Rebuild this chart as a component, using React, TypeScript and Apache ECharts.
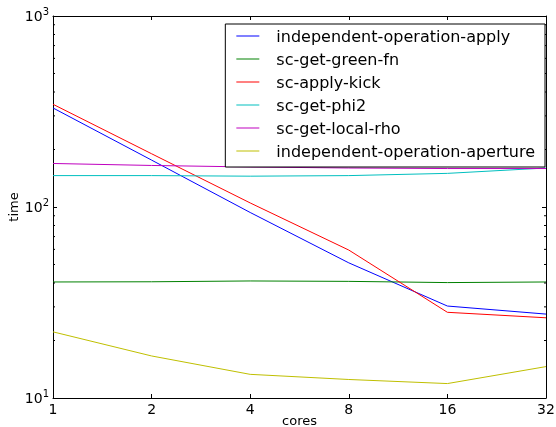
import React, { useEffect, useRef } from "react";
import * as echarts from "echarts";

const cores = ["1", "2", "4", "8", "16", "32"];
const seriesNames = [
  "independent-operation-apply",
  "sc-get-green-fn",
  "sc-apply-kick",
  "sc-get-phi2",
  "sc-get-local-rho",
  "independent-operation-aperture",
];
const indepApply = [330, 176, 93.6, 51, 30.3, 27.5];
const greenFn = [40.5, 40.6, 41, 40.8, 40.2, 40.5];
const applyKick = [345, 190, 105, 59.5, 28.1, 26.3];
const phi2 = [146, 146, 145, 146, 150, 160];
const localRho = [169, 165, 162, 160, 159, 159];
const aperture = [22.2, 16.6, 13.3, 12.5, 11.9, 14.6];
const colors = ["#0000ff", "#008000", "#ff0000", "#00bfbf", "#bf00bf", "#bfbf00"];
const minorTickValues = [20, 30, 40, 50, 60, 70, 80, 90, 200, 300, 400, 500, 600, 700, 800, 900];

const allData = [indepApply, greenFn, applyKick, phi2, localRho, aperture];
const FONT = "DejaVu Sans";

export default function App() {
  const ref = useRef<HTMLDivElement>(null);
  useEffect(() => {
    if (!ref.current) return;
    const chart = echarts.init(ref.current, undefined, { renderer: "svg" });
    const lineSeries = seriesNames.map((name, i) => ({
      name,
      type: "line",
      data: allData[i],
      symbol: "none",
      showSymbol: false,
      lineStyle: { color: colors[i], width: 1 },
      itemStyle: { color: colors[i] },
      z: 3,
    }));
    chart.setOption({
      animation: false,
      textStyle: { fontFamily: FONT },
      grid: { left: 53, right: 10, top: 16, bottom: 29, containLabel: false, outerBoundsMode: "none" },
      xAxis: [
        {
          type: "category",
          data: cores,
          boundaryGap: false,
          name: "cores",
          nameLocation: "middle",
          nameGap: 16,
          nameMoveOverlap: false,
          nameTextStyle: { fontSize: 13, color: "#000", fontFamily: FONT },
          axisLine: { lineStyle: { color: "#000", width: 1 } },
          axisTick: { inside: true, length: 4, lineStyle: { color: "#000" } },
          axisLabel: { color: "#000", fontSize: 14, margin: 4, fontFamily: FONT },
          splitLine: { show: false },
        },
        {
          type: "category",
          data: cores,
          boundaryGap: false,
          position: "top",
          axisLine: { lineStyle: { color: "#000", width: 1 } },
          axisTick: { inside: true, length: 4, lineStyle: { color: "#000" } },
          axisLabel: { show: false },
          splitLine: { show: false },
        },
      ],
      yAxis: [
        {
          type: "log",
          logBase: 10,
          min: 10,
          max: 1000,
          interval: 1,
          name: "time",
          nameLocation: "middle",
          nameGap: 33,
          nameMoveOverlap: false,
          nameTextStyle: { fontSize: 13, color: "#000", fontFamily: FONT },
          axisLine: { show: true, lineStyle: { color: "#000", width: 1 } },
          axisTick: { show: true, inside: true, length: 4, lineStyle: { color: "#000" } },
          axisLabel: {
            color: "#000",
            margin: 4,
            formatter: (v: number) => `{b|10}{s|${Math.round(Math.log10(v))}}`,
            rich: {
              b: { fontSize: 14, fontFamily: FONT, color: "#000" },
              s: { fontSize: 10, fontFamily: FONT, color: "#000", padding: [0, 0, 9, 0] },
            },
          },
          splitLine: { show: false },
        },
        {
          type: "log",
          logBase: 10,
          min: 10,
          max: 1000,
          interval: 1,
          position: "right",
          axisLine: { show: true, lineStyle: { color: "#000", width: 1 } },
          axisTick: { show: true, inside: true, length: 4, lineStyle: { color: "#000" } },
          axisLabel: { show: false },
          splitLine: { show: false },
        },
      ],
      legend: {
        data: seriesNames,
        orient: "vertical",
        right: 11,
        top: 24,
        backgroundColor: "#fff",
        borderColor: "#000",
        borderWidth: 1,
        borderRadius: 0,
        padding: [4, 10, 8, 11],
        icon: "rect",
        itemWidth: 23,
        itemHeight: 1,
        itemGap: 7,
        textStyle: { fontSize: 16, color: "#000", fontFamily: FONT, lineHeight: 16, padding: [0, 0, 0, 12] },
        z: 10,
      },
      series: [
        ...lineSeries,
        {
          type: "custom",
          name: "minorTicks",
          silent: true,
          clip: false,
          data: minorTickValues.map((v) => [0, v]),
          renderItem: (params: any, api: any) => {
            const y = api.coord([0, api.value(1)])[1];
            const cs = params.coordSys;
            return {
              type: "group",
              children: [
                { type: "line", shape: { x1: cs.x, y1: y, x2: cs.x + 2, y2: y }, style: { stroke: "#000", lineWidth: 1 } },
                { type: "line", shape: { x1: cs.x + cs.width, y1: y, x2: cs.x + cs.width - 2, y2: y }, style: { stroke: "#000", lineWidth: 1 } },
              ],
            };
          },
          z: 4,
        },
      ],
    });
    return () => chart.dispose();
  }, []);
  return <div ref={ref} style={{ position: "fixed", left: 0, top: 0, width: 556, height: 427 }} />;
}
